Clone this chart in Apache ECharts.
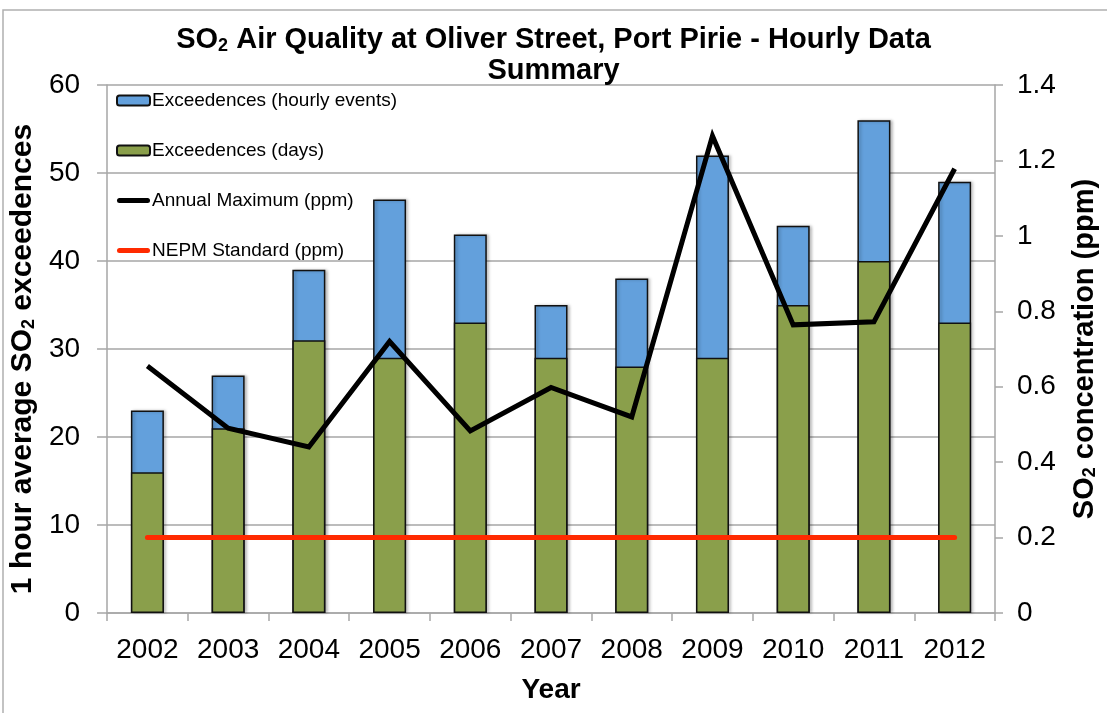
<!DOCTYPE html>
<html>
<head>
<meta charset="utf-8">
<script src="https://cdn.jsdelivr.net/npm/echarts@6/dist/echarts.min.js"></script>
<style>html,body{margin:0;padding:0;background:#fff;}#c{width:1107px;height:713px;}</style>
</head>
<body>
<div id="c"></div>
<script>
const years = ['2002','2003','2004','2005','2006','2007','2008','2009','2010','2011','2012'];
const hourlyEvents = [23, 27, 39, 47, 43, 35, 38, 52, 44, 56, 49];
const exceedDays = [16, 21, 31, 29, 33, 29, 28, 29, 35, 40, 33];
const annualMax = [0.655, 0.49, 0.44, 0.72, 0.483, 0.598, 0.52, 1.265, 0.764, 0.772, 1.178];
const nepmStandard = [0.2, 0.2, 0.2, 0.2, 0.2, 0.2, 0.2, 0.2, 0.2, 0.2, 0.2];
const leftTicks = {min: 0, max: 60, interval: 10};
const rightTicks = {min: 0, max: 1.4, interval: 0.2};

const FONT = "'Liberation Sans', Arial, Helvetica, sans-serif";
const chart = echarts.init(document.getElementById('c'), null, {renderer: 'canvas'});
const gridColor = '#a6a6a6';
const lineIcon = 'path://M2.5,0 L30.5,0 A2.5,2.5 0 0 1 30.5,5 L2.5,5 A2.5,2.5 0 0 1 2.5,0 Z';
const subStyle = (fs, lh) => ({fontFamily: FONT, fontSize: fs, fontWeight: 'bold', color: '#000', lineHeight: lh, verticalAlign: 'bottom'});

chart.setOption({
  backgroundColor: '#fff',
  animation: false,
  graphic: [{
    type: 'rect', shape: {x: 3, y: 10, width: 1120, height: 720},
    style: {fill: 'none', stroke: '#b0b0b0', lineWidth: 1.5}, silent: true, z: -10
  }],
  title: {
    text: '{b|SO}{s|2}{b| Air Quality at Oliver Street, Port Pirie - Hourly Data}\n{b|Summary}',
    left: 'center', top: 19,
    textStyle: {
      rich: {
        b: {fontFamily: FONT, fontSize: 29, fontWeight: 'bold', color: '#000', lineHeight: 31},
        s: subStyle(18, 17)
      }
    }
  },
  legend: {
    orient: 'vertical', left: 111, top: 86, itemGap: 31,
    itemWidth: 33, itemHeight: 10,
    textStyle: {fontFamily: FONT, fontSize: 19, color: '#000', padding: [0,0,0,-3]},
    data: [
      {name: 'Exceedences (hourly events)'},
      {name: 'Exceedences (days)'},
      {name: 'Annual Maximum (ppm)', icon: lineIcon, itemStyle: {color: '#000', borderWidth: 0}},
      {name: 'NEPM Standard (ppm)', icon: lineIcon, itemStyle: {color: '#ff2a00', borderWidth: 0}}
    ]
  },
  grid: {left: 105, right: 105, top: 85, bottom: 100, containLabel: false},
  xAxis: {
    type: 'category', data: years,
    name: 'Year', nameLocation: 'middle', nameGap: 63,
    nameTextStyle: {fontFamily: FONT, fontSize: 28, fontWeight: 'bold', color: '#000'},
    axisLine: {lineStyle: {color: gridColor, width: 1.5}},
    axisTick: {show: true, length: 8, interval: 0, lineStyle: {color: gridColor, width: 1.5}},
    axisLabel: {fontFamily: FONT, fontSize: 28, color: '#000', margin: 23, interval: 0, hideOverlap: false}
  },
  yAxis: [{
    type: 'value', position: 'left', min: leftTicks.min, max: leftTicks.max, interval: leftTicks.interval,
    name: '1 hour average SO{s|2} exceedences', nameLocation: 'middle', nameGap: 57,
    nameTextStyle: {fontFamily: FONT, fontSize: 30, fontWeight: 'bold', color: '#000', padding: [0, 20, 0, 0],
      rich: {s: subStyle(18, 18)}},
    axisLine: {show: true, lineStyle: {color: gridColor, width: 1.5}},
    axisTick: {show: true, length: 10, lineStyle: {color: gridColor, width: 1.5}},
    axisLabel: {fontFamily: FONT, fontSize: 28, color: '#000', margin: 27},
    splitLine: {show: true, lineStyle: {color: gridColor, width: 1.5}}
  }, {
    type: 'value', position: 'right', min: rightTicks.min, max: rightTicks.max, interval: rightTicks.interval,
    name: 'SO{s|2} concentration (ppm)', nameLocation: 'middle', nameGap: 75,
    nameTextStyle: {fontFamily: FONT, fontSize: 29, fontWeight: 'bold', color: '#000',
      rich: {s: subStyle(18, 18)}},
    axisLine: {show: true, lineStyle: {color: gridColor, width: 1.5}},
    axisTick: {show: true, length: 8, lineStyle: {color: gridColor, width: 1.5}},
    axisLabel: {fontFamily: FONT, fontSize: 28, color: '#000', margin: 22},
    splitLine: {show: false}
  }],
  series: [{
    name: 'Exceedences (hourly events)', type: 'bar', data: hourlyEvents, yAxisIndex: 0,
    barWidth: 33, barGap: '-100%',
    itemStyle: {color: '#63a0dc', borderColor: '#111', borderWidth: 1.5,
      shadowColor: 'rgba(0,0,0,0.25)', shadowBlur: 3, shadowOffsetX: 2}
  }, {
    name: 'Exceedences (days)', type: 'bar', data: exceedDays, yAxisIndex: 0,
    barWidth: 33, barGap: '-100%',
    itemStyle: {color: '#8a9f4b', borderColor: '#111', borderWidth: 1.5}
  }, {
    name: 'Annual Maximum (ppm)', type: 'line', data: annualMax, yAxisIndex: 1,
    symbol: 'none', z: 5,
    itemStyle: {color: '#000'},
    lineStyle: {color: '#000', width: 5, join: 'miter', cap: 'butt'}
  }, {
    name: 'NEPM Standard (ppm)', type: 'line', data: nepmStandard, yAxisIndex: 1,
    symbol: 'none', z: 4,
    itemStyle: {color: '#ff2a00'},
    lineStyle: {color: '#ff2a00', width: 5, cap: 'round'}
  }]
});
</script>
</body>
</html>
